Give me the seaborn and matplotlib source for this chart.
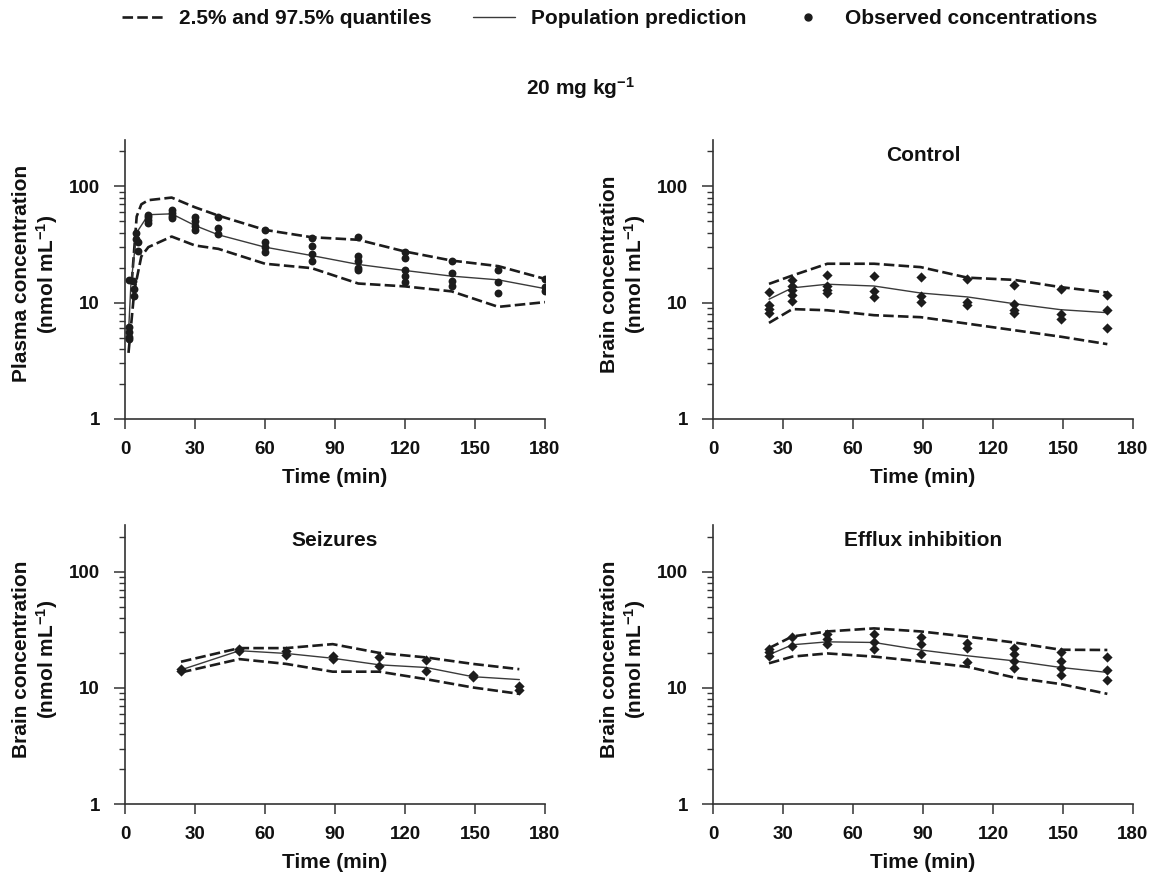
import numpy as np
import pandas as pd
import seaborn as sns
import matplotlib.pyplot as plt
from matplotlib.lines import Line2D
from matplotlib.ticker import LogLocator, NullFormatter

# ---- data (time in min, conc in nmol/mL) ----

# plasma
plasma_pred_t = [1.5, 2.5, 5, 10, 20, 30, 40, 60, 80, 100, 120, 140, 160, 180]
plasma_pred = [5.5, 14, 40, 57, 58, 46, 38.3, 30, 25.4, 21.3, 18.9, 16.9, 15.7, 13.2]
plasma_hi_t = [1.5, 3, 5, 7, 10, 20, 30, 40, 60, 80, 100, 120, 140, 160, 180]
plasma_hi = [15.8, 16, 55, 70, 76, 80, 66, 56, 42.2, 36.5, 34.7, 27.5, 23, 20.6, 16]
plasma_lo_t = [1.5, 4, 7, 10, 20, 30, 40, 60, 80, 100, 120, 140, 160, 180]
plasma_lo = [3.7, 12.7, 25, 30, 37, 31, 29, 21.6, 19.8, 14.6, 13.8, 12.5, 9.2, 10.1]
plasma_obs_t = [1.5, 1.5, 1.5, 1.5, 1.5, 3.5, 4, 4, 4.5, 4.5, 5.5, 5.5,
                10, 10, 10, 10, 20, 20, 20, 20, 30, 30, 30, 30, 40, 40, 40,
                60, 60, 60, 60, 80, 80, 80, 80, 100, 100, 100, 100, 100,
                120, 120, 120, 120, 120, 140, 140, 140, 140, 160, 160, 160,
                180, 180, 180]
plasma_obs = [6.2, 5.6, 5.1, 4.9, 15.8, 15.5, 13, 11.3, 40, 35, 33, 28,
              57, 54, 51, 48, 62, 59, 56, 53, 55, 50, 46, 42, 54, 44, 39,
              42, 33, 30, 27, 36, 30.5, 26, 23, 36.5, 25, 23, 20, 19,
              27, 24, 19, 17, 15, 23, 18, 15.5, 14, 19, 15, 12,
              16, 13.5, 12.6]

brain_t = [24, 34, 49, 69, 89, 109, 129, 149, 169]

# brain - control
control_pred = [10.7, 13.4, 14.4, 13.9, 12.1, 11.2, 9.8, 8.7, 8.2]
control_hi = [14.5, 17.1, 21.6, 21.6, 20.2, 16.4, 15.7, 13.6, 12.2]
control_lo = [6.7, 8.8, 8.6, 7.8, 7.5, 6.6, 5.8, 5.1, 4.4]
control_obs_t = [24, 24, 24, 24, 34, 34, 34, 34, 34, 49, 49, 49, 49,
                 69, 69, 69, 89, 89, 89, 109, 109, 109, 129, 129, 129, 129,
                 149, 149, 149, 169, 169, 169]
control_obs = [12.4, 9.5, 8.9, 8.1, 15.7, 14, 12.8, 11.6, 10.3, 17.2, 13.8, 12.9, 12.1,
               16.9, 12.6, 11.2, 16.6, 11.4, 10.1, 15.9, 10.1, 9.5, 14.1, 9.8, 8.7, 8.1,
               13, 8.0, 7.2, 11.6, 8.6, 6.1]

# brain - seizures (no 34 min sample)
seizure_t = [24, 49, 69, 89, 109, 129, 149, 169]
seizure_pred = [14.3, 20.9, 19.8, 18, 15.8, 15, 12.5, 11.8]
seizure_hi = [16.8, 22, 22, 23.8, 20, 18.3, 16.1, 14.5]
seizure_lo = [13.6, 17.7, 16.1, 13.8, 13.8, 11.9, 10.1, 8.9]
seizure_obs_t = [24, 24, 49, 49, 69, 69, 89, 89, 109, 109, 129, 129, 149, 149, 169, 169]
seizure_obs = [14.5, 14.1, 21.6, 20.9, 20.6, 19.3, 18.9, 17.7, 18.5, 15.5,
               17.5, 14.1, 12.9, 12.3, 10.3, 9.6]

# brain - efflux inhibition
efflux_pred = [19.3, 23.5, 24.9, 24.6, 21.2, 18.9, 17.1, 15, 13.6]
efflux_hi = [22, 27.7, 30.6, 32.5, 30.6, 27.6, 24.6, 21.3, 21.2]
efflux_lo = [16.3, 18.6, 19.8, 18.6, 16.9, 15.2, 12.3, 10.8, 8.9]
efflux_obs_t = [24, 24, 24, 34, 34, 49, 49, 49, 69, 69, 69, 89, 89, 89,
                109, 109, 109, 129, 129, 129, 129, 149, 149, 149, 149, 169, 169, 169]
efflux_obs = [21.6, 20.2, 18.9, 27.5, 23, 29, 26.3, 23.8, 29, 24.6, 21.6, 27.5, 23.8, 19.5,
              24.3, 22, 16.6, 22, 19.5, 17.1, 14.7, 20.2, 17.1, 14.8, 13, 18.3, 14.3, 11.7]

x_ticks = [0, 30, 60, 90, 120, 150, 180]

# ---- style ----
sns.set_style('ticks')
plt.rcParams['font.family'] = ['Liberation Sans', 'DejaVu Sans']
plt.rcParams['font.weight'] = 'bold'
plt.rcParams['axes.labelweight'] = 'bold'
plt.rcParams['mathtext.fontset'] = 'custom'
plt.rcParams['mathtext.rm'] = 'Liberation Sans:bold'
plt.rcParams['mathtext.bf'] = 'Liberation Sans:bold'
plt.rcParams['mathtext.it'] = 'Liberation Sans:bold:italic'

INK = '#1c1c1c'
DASH = (0, (4, 1.6))

fig = plt.figure(figsize=(11.5, 8.74), dpi=100)

W, H = 420 / 1150, 279 / 874
ax_plasma = fig.add_axes([125 / 1150, 1 - 419 / 874, W, H])
ax_control = fig.add_axes([713 / 1150, 1 - 419 / 874, W, H])
ax_seiz = fig.add_axes([125 / 1150, 1 - 804.3 / 874, W, H])
ax_efflux = fig.add_axes([713 / 1150, 1 - 804.3 / 874, W, H])


def draw_panel(ax, pred_t, pred, hi_t, hi, lo_t, lo, obs_t, obs, marker, ylabel, title=None):
    sns.lineplot(x=hi_t, y=hi, ax=ax, color=INK, lw=1.9, linestyle=DASH, errorbar=None)
    sns.lineplot(x=lo_t, y=lo, ax=ax, color=INK, lw=1.9, linestyle=DASH, errorbar=None)
    sns.lineplot(x=pred_t, y=pred, ax=ax, color='#3a3a3a', lw=1.0, errorbar=None)
    sns.scatterplot(x=obs_t, y=obs, ax=ax, color=INK, marker=marker,
                    s=32 if marker == 'o' else 27, linewidth=0, zorder=3)

    ax.set_yscale('log')
    ax.set_ylim(1, 250)
    ax.set_xlim(0, 180)
    ax.set_xticks(x_ticks)
    ax.set_xticklabels([str(t) for t in x_ticks])
    ax.set_yticks([1, 10, 100])
    ax.set_yticklabels(['1', '10', '100'])
    ax.yaxis.set_minor_locator(LogLocator(base=10, subs=np.arange(2, 10)))
    ax.yaxis.set_minor_formatter(NullFormatter())
    ax.tick_params(axis='x', length=7, width=1.1, pad=8.5, labelsize=13.5,
                   color='#333333', labelcolor='#111111')
    ax.tick_params(axis='y', which='major', length=8, width=1.1, pad=10, labelsize=13.5,
                   color='#333333', labelcolor='#111111')
    ax.tick_params(axis='y', which='minor', length=4.5, width=1.0, color='#333333')
    for lab in ax.get_xticklabels() + ax.get_yticklabels():
        lab.set_fontweight('bold')
    for side in ['top', 'right']:
        ax.spines[side].set_visible(False)
    for side in ['left', 'bottom']:
        ax.spines[side].set_linewidth(1.2)
        ax.spines[side].set_color('#333333')

    ax.set_xlabel('Time (min)', fontsize=15, fontweight='bold', color='#111111')
    ax.xaxis.set_label_coords(0.5, -0.175)
    ax.xaxis.label.set_va('top')
    ax.set_ylabel(ylabel, fontsize=15, fontweight='bold', linespacing=1.15, color='#111111')
    ax.yaxis.set_label_coords(-0.155, 0.52)
    if title:
        ax.text(0.5, 0.944, title, transform=ax.transAxes, ha='center', va='center',
                fontsize=15, fontweight='bold', color='#111111')


unit = '(nmol mL$^{-1}$)'
draw_panel(ax_plasma, plasma_pred_t, plasma_pred, plasma_hi_t, plasma_hi,
           plasma_lo_t, plasma_lo, plasma_obs_t, plasma_obs, 'o',
           'Plasma concentration\n' + unit)
draw_panel(ax_control, brain_t, control_pred, brain_t, control_hi, brain_t, control_lo,
           control_obs_t, control_obs, 'D', 'Brain concentration\n' + unit, 'Control')
draw_panel(ax_seiz, seizure_t, seizure_pred, seizure_t, seizure_hi, seizure_t, seizure_lo,
           seizure_obs_t, seizure_obs, 'D', 'Brain concentration\n' + unit, 'Seizures')
draw_panel(ax_efflux, brain_t, efflux_pred, brain_t, efflux_hi, brain_t, efflux_lo,
           efflux_obs_t, efflux_obs, 'D', 'Brain concentration\n' + unit, 'Efflux inhibition')

fig.text(0.505, 1 - 88 / 874, '20 mg kg$^{-1}$', ha='center', va='center',
         fontsize=15, fontweight='bold', color='#111111')

handles = [Line2D([], [], color=INK, lw=1.9, linestyle=DASH),
           Line2D([], [], color='#3a3a3a', lw=1.0),
           Line2D([], [], color=INK, lw=0, marker='o', markersize=5)]
labels = ['2.5% and 97.5% quantiles', 'Population prediction', 'Observed concentrations']
leg = fig.legend(handles, labels, loc='center', bbox_to_anchor=(0.53, 1 - 19 / 874),
                 ncol=3, frameon=False, handlelength=2, handletextpad=0.75,
                 columnspacing=2, prop={'size': 15, 'weight': 'bold'})
for t in leg.get_texts():
    t.set_color('#111111')

fig.savefig('out.png', dpi=100)
